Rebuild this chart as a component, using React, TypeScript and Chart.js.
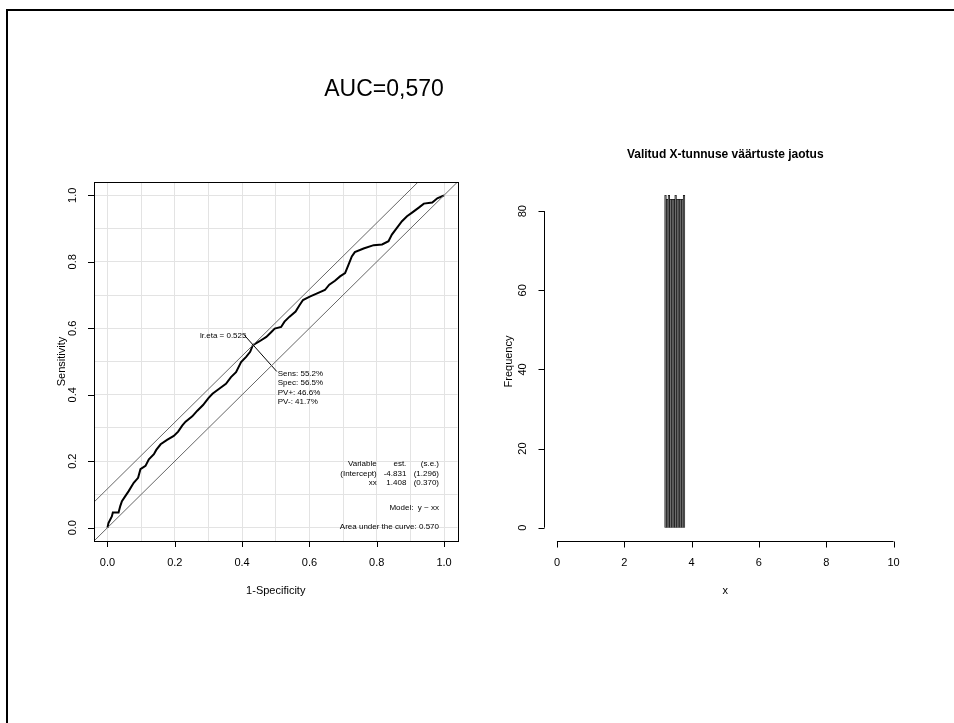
import React, { useEffect, useRef } from "react";
import { Chart, registerables } from "chart.js";

Chart.register(...registerables);

const FONT = '"Liberation Sans", Arial, Helvetica, sans-serif';

// ---------- ROC data ----------
const rocFpr = [
  0.0, 0.003, 0.013, 0.016, 0.033, 0.038, 0.043, 0.053, 0.063, 0.078, 0.091, 0.098,
  0.113, 0.123, 0.138, 0.145, 0.158, 0.177, 0.197, 0.21, 0.222, 0.232, 0.252, 0.267,
  0.284, 0.3, 0.312, 0.332, 0.352, 0.367, 0.382, 0.397, 0.412, 0.424, 0.432, 0.452,
  0.472, 0.487, 0.497, 0.516, 0.526, 0.541, 0.559, 0.571, 0.581, 0.601, 0.623, 0.646,
  0.659, 0.676, 0.691, 0.706, 0.716, 0.726, 0.735, 0.761, 0.791, 0.816, 0.835, 0.845,
  0.86, 0.875, 0.89, 0.905, 0.925, 0.94, 0.965, 0.98, 1.0,
];
const rocTpr = [
  0.0, 0.014, 0.034, 0.046, 0.046, 0.065, 0.08, 0.095, 0.11, 0.135, 0.15, 0.176,
  0.186, 0.206, 0.221, 0.234, 0.251, 0.264, 0.276, 0.289, 0.307, 0.319, 0.335, 0.352,
  0.369, 0.39, 0.403, 0.418, 0.433, 0.453, 0.468, 0.498, 0.514, 0.529, 0.549, 0.561,
  0.574, 0.589, 0.599, 0.604, 0.62, 0.635, 0.65, 0.67, 0.685, 0.695, 0.705, 0.715,
  0.731, 0.743, 0.756, 0.766, 0.791, 0.816, 0.829, 0.84, 0.85, 0.852, 0.862, 0.882,
  0.902, 0.922, 0.937, 0.948, 0.963, 0.975, 0.978, 0.991, 1.0,
];
const diagX = [-0.04, 1.04];
const diagY = [-0.04, 1.04];
const tangentX = [-0.04, 0.923];
const tangentY = [0.077, 1.04];
const optLineX = [0.407, 0.503];
const optLineY = [0.579, 0.47];
const rocGrid = [0, 0.1, 0.2, 0.3, 0.4, 0.5, 0.6, 0.7, 0.8, 0.9, 1.0];
const rocTicks = [0, 0.2, 0.4, 0.6, 0.8, 1.0];
const rocTickLabels = ["0.0", "0.2", "0.4", "0.6", "0.8", "1.0"];
const optLabel = "lr.eta = 0.525";
const optStats = ["Sens: 55.2%", "Spec: 56.5%", "PV+: 46.6%", "PV-: 41.7%"];
const tableCol1 = ["Variable", "(Intercept)", "xx"];
const tableCol2 = ["est.", "-4.831", "1.408"];
const tableCol3 = ["(s.e.)", "(1.296)", "(0.370)"];
const modelText = "Model:  y ~ xx";
const aucText = "Area under the curve: 0.570";

// ---------- Histogram data ----------
const histMids = [3.225, 3.275, 3.325, 3.375, 3.425, 3.475, 3.525, 3.575, 3.625, 3.675, 3.725, 3.775];
const histCounts = [84, 83, 84, 83, 83, 83, 84, 83, 83, 83, 83, 84];
const histXTicks = [0, 2, 4, 6, 8, 10];
const histYTicks = [0, 20, 40, 60, 80];

function rotText(ctx: CanvasRenderingContext2D, t: string, x: number, y: number) {
  ctx.save();
  ctx.translate(x, y);
  ctx.rotate(-Math.PI / 2);
  ctx.textAlign = "center";
  ctx.textBaseline = "middle";
  ctx.fillText(t, 0, 0);
  ctx.restore();
}

const rocDecor = {
  id: "rocDecor",
  afterDatasetsDraw(chart: any) {
    const ctx: CanvasRenderingContext2D = chart.ctx;
    const xs = chart.scales.x;
    const ys = chart.scales.y;
    const a = chart.chartArea;
    ctx.save();
    ctx.strokeStyle = "#000";
    ctx.lineWidth = 1;
    ctx.strokeRect(Math.round(a.left) + 0.5, Math.round(a.top) + 0.5, Math.round(a.right - a.left), Math.round(a.bottom - a.top));
    ctx.beginPath();
    rocTicks.forEach((v) => {
      const px = Math.round(xs.getPixelForValue(v)) + 0.5;
      ctx.moveTo(px, a.bottom);
      ctx.lineTo(px, a.bottom + 6);
      const py = Math.round(ys.getPixelForValue(v)) + 0.5;
      ctx.moveTo(a.left, py);
      ctx.lineTo(a.left - 6, py);
    });
    ctx.stroke();
    ctx.fillStyle = "#000";
    ctx.font = `11px ${FONT}`;
    ctx.textAlign = "center";
    ctx.textBaseline = "middle";
    rocTicks.forEach((v, i) => {
      ctx.fillText(rocTickLabels[i], xs.getPixelForValue(v), a.bottom + 22);
      rotText(ctx, rocTickLabels[i], a.left - 21, ys.getPixelForValue(v));
    });
    ctx.fillText("1-Specificity", (a.left + a.right) / 2, a.bottom + 50);
    rotText(ctx, "Sensitivity", a.left - 32, (a.top + a.bottom) / 2);

    ctx.font = `8px ${FONT}`;
    ctx.textAlign = "right";
    ctx.fillText(optLabel, xs.getPixelForValue(0.413), ys.getPixelForValue(0.577));
    ctx.textAlign = "left";
    optStats.forEach((t, i) => {
      ctx.fillText(t, xs.getPixelForValue(0.506), ys.getPixelForValue(0.463) + i * 9.3);
    });
    ctx.textAlign = "right";
    for (let i = 0; i < 3; i++) {
      const y = ys.getPixelForValue(0.193) + i * 9.8;
      ctx.fillText(tableCol1[i], xs.getPixelForValue(0.8), y);
      ctx.fillText(tableCol2[i], xs.getPixelForValue(0.888), y);
      ctx.fillText(tableCol3[i], xs.getPixelForValue(0.985), y);
    }
    ctx.fillText(modelText, xs.getPixelForValue(0.985), ys.getPixelForValue(0.06));
    ctx.fillText(aucText, xs.getPixelForValue(0.985), ys.getPixelForValue(0.002));
    ctx.restore();
  },
};

const histDecor = {
  id: "histDecor",
  afterDatasetsDraw(chart: any) {
    const ctx: CanvasRenderingContext2D = chart.ctx;
    const xs = chart.scales.x;
    const ys = chart.scales.y;
    const a = chart.chartArea;
    ctx.save();
    ctx.strokeStyle = "#000";
    ctx.lineWidth = 1;
    ctx.beginPath();
    const bx = Math.round(a.bottom) + 0.5;
    ctx.moveTo(xs.getPixelForValue(histXTicks[0]), bx);
    ctx.lineTo(xs.getPixelForValue(histXTicks[histXTicks.length - 1]), bx);
    histXTicks.forEach((v) => {
      const px = Math.round(xs.getPixelForValue(v)) + 0.5;
      ctx.moveTo(px, bx);
      ctx.lineTo(px, bx + 6);
    });
    const lx = Math.round(a.left) + 0.5;
    ctx.moveTo(lx, ys.getPixelForValue(histYTicks[0]));
    ctx.lineTo(lx, ys.getPixelForValue(histYTicks[histYTicks.length - 1]));
    histYTicks.forEach((v) => {
      const py = Math.round(ys.getPixelForValue(v)) + 0.5;
      ctx.moveTo(lx, py);
      ctx.lineTo(lx - 6, py);
    });
    ctx.stroke();
    ctx.fillStyle = "#000";
    ctx.font = `11px ${FONT}`;
    ctx.textAlign = "center";
    ctx.textBaseline = "middle";
    histXTicks.forEach((v) => ctx.fillText(String(v), xs.getPixelForValue(v), a.bottom + 22));
    histYTicks.forEach((v) => rotText(ctx, String(v), a.left - 21, ys.getPixelForValue(v)));
    ctx.fillText("x", (a.left + a.right) / 2, a.bottom + 50);
    rotText(ctx, "Frequency", a.left - 35, (a.top + a.bottom) / 2);
    ctx.font = `bold 12px ${FONT}`;
    ctx.fillText("Valitud X-tunnuse väärtuste jaotus", (a.left + a.right) / 2, a.top - 27);
    ctx.restore();
  },
};

function RocChart() {
  const ref = useRef<HTMLCanvasElement>(null);
  useEffect(() => {
    const pts = (xs: number[], ys: number[]) => xs.map((x, i) => ({ x, y: ys[i] }));
    const grid = (s: any) => {
      s.ticks = rocGrid.map((v) => ({ value: v }));
    };
    const chart = new Chart(ref.current!, {
      type: "line",
      data: {
        datasets: [
          { data: pts(diagX, diagY), borderColor: "#666", borderWidth: 1, pointRadius: 0 },
          { data: pts(tangentX, tangentY), borderColor: "#666", borderWidth: 1, pointRadius: 0 },
          { data: pts(optLineX, optLineY), borderColor: "#000", borderWidth: 1, pointRadius: 0 },
          { data: pts(rocFpr, rocTpr), borderColor: "#000", borderWidth: 2, pointRadius: 0, tension: 0 },
        ],
      },
      options: {
        animation: false,
        responsive: false,
        events: [],
        layout: { padding: { left: 94, top: 182, right: 22.5, bottom: 182 } },
        plugins: { legend: { display: false }, tooltip: { enabled: false }, title: { display: false } },
        scales: {
          x: {
            type: "linear",
            min: -0.04,
            max: 1.04,
            afterBuildTicks: grid,
            ticks: { display: false },
            grid: { color: "#e3e3e3", drawTicks: false, lineWidth: 1 },
            border: { display: false },
          },
          y: {
            type: "linear",
            min: -0.04,
            max: 1.04,
            afterBuildTicks: grid,
            ticks: { display: false },
            grid: { color: "#e3e3e3", drawTicks: false, lineWidth: 1 },
            border: { display: false },
          },
        },
      },
      plugins: [rocDecor],
    } as any);
    return () => chart.destroy();
  }, []);
  return <canvas ref={ref} width={480} height={723} style={{ position: "absolute", left: 0, top: 0 }} />;
}

function HistChart() {
  const ref = useRef<HTMLCanvasElement>(null);
  useEffect(() => {
    const chart = new Chart(ref.current!, {
      type: "bar",
      data: {
        datasets: [
          {
            data: histMids.map((x, i) => ({ x, y: histCounts[i] })),
            backgroundColor: "#707070",
            borderColor: "#000",
            borderWidth: 0.6,
            barPercentage: 1,
            categoryPercentage: 1,
          },
        ],
      },
      options: {
        animation: false,
        responsive: false,
        events: [],
        layout: { padding: { left: 63.5, top: 182, right: 47, bottom: 182 } },
        plugins: { legend: { display: false }, tooltip: { enabled: false }, title: { display: false } },
        scales: {
          x: { type: "linear", min: -0.4, max: 10.4, display: false, offset: false, grid: { offset: false } },
          y: { type: "linear", min: -3.36, max: 87.36, display: false },
        },
      },
      plugins: [histDecor],
    } as any);
    return () => chart.destroy();
  }, []);
  return <canvas ref={ref} width={474} height={723} style={{ position: "absolute", left: 480, top: 0 }} />;
}

export default function App() {
  return (
    <div
      style={{
        position: "fixed",
        left: 0,
        top: 0,
        width: 954,
        height: 723,
        background: "#fff",
        overflow: "hidden",
        fontFamily: FONT,
      }}
    >
      <div
        style={{
          position: "absolute",
          left: 6,
          top: 9,
          width: 1000,
          height: 800,
          border: "2px solid #000",
          boxSizing: "border-box",
        }}
      />
      <RocChart />
      <HistChart />
      <div
        style={{
          position: "absolute",
          left: 384,
          top: 88,
          transform: "translate(-50%, -50%)",
          fontSize: 23,
          color: "#000",
          whiteSpace: "nowrap",
          lineHeight: 1,
        }}
      >
        AUC=0,570
      </div>
    </div>
  );
}
